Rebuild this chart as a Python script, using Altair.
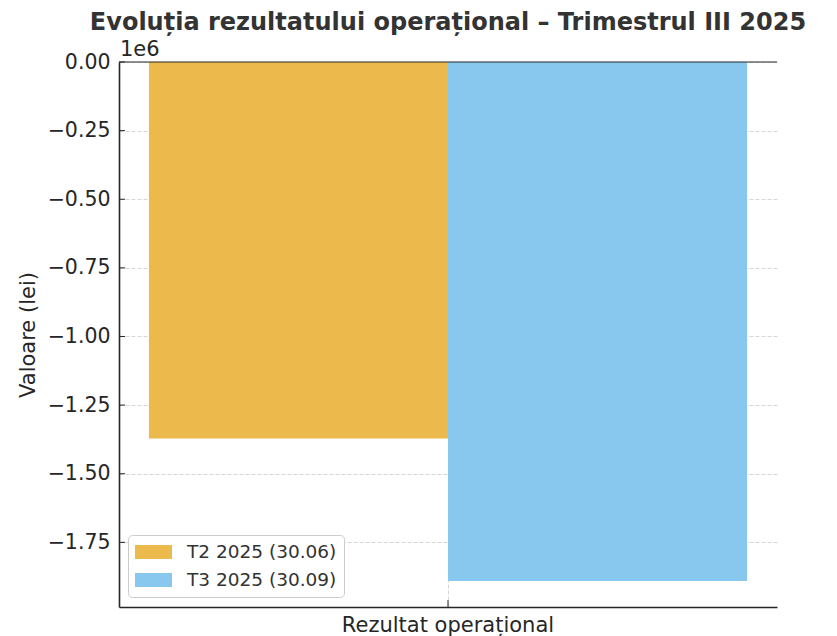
import altair as alt
import pandas as pd

categories = ["Rezultat operațional"]
series = ["T2 2025 (30.06)", "T3 2025 (30.09)"]
values = [-1372000, -1891000]
colors = ["#ECBA4C", "#88C8EE"]
y_ticks = [-1750000, -1500000, -1250000, -1000000, -750000, -500000, -250000, 0]
title_text = ["Evoluția rezultatului operațional – Trimestrul III 2025"]
y_title = "Valoare (lei)"
offset_text = ["1e6"]

df = pd.DataFrame({
    "Indicator": [categories[0]] * len(series),
    "Perioada": series,
    "Valoare": values,
})

font = "DejaVu Sans"
ink = "#262626"
ymin = min(values) * 1.05
W, H = 658, 545

yscale = alt.Scale(domain=[ymin, 0], nice=False, zero=False)
xscale = alt.Scale(domain=categories, paddingOuter=0.05, paddingInner=0)

bars = alt.Chart(df).mark_bar().encode(
    x=alt.X("Indicator:N", title=None, scale=xscale,
            axis=alt.Axis(labelAngle=0, labelFontSize=21, labelColor=ink,
                          labelFont=font, labelPadding=7, ticks=False,
                          labelLimit=0,
                          domainColor=ink, domainWidth=1.6,
                          grid=True, gridDash=[4, 2], gridColor="#cccccc",
                          gridWidth=0.8)),
    xOffset=alt.XOffset("Perioada:N", sort=series,
                        scale=alt.Scale(paddingInner=0, paddingOuter=0)),
    y=alt.Y("Valoare:Q", title=y_title, scale=yscale,
            axis=alt.Axis(values=y_ticks,
                          labelExpr="replace(format(datum.value/1000000, '.2f'), '-', '−')",
                          labelFontSize=20.5, labelColor=ink, labelFont=font,
                          labelPadding=9, ticks=False,
                          titleFontSize=21, titleFont=font, titleFontWeight="normal",
                          titleColor=ink, titlePadding=9,
                          domainColor=ink, domainWidth=1.6,
                          grid=True, gridDash=[4, 2], gridColor="#cccccc",
                          gridWidth=0.8)),
    color=alt.Color("Perioada:N", sort=series,
                    scale=alt.Scale(domain=series, range=colors),
                    legend=alt.Legend(title=None, orient="none", legendX=9, legendY=473,
                                      labelFontSize=18.5, labelFont=font,
                                      labelColor="#333333", labelOffset=32,
                                      symbolType="M-1,-0.7H2.7V0.7H-1Z",
                                      symbolSize=400, symbolStrokeWidth=0,
                                      symbolOpacity=1,
                                      rowPadding=8,
                                      padding=7, fillColor="white",
                                      strokeColor="#cccccc", cornerRadius=4)),
)

# inward ticks (matplotlib style)
ytick_df = pd.DataFrame({"v": y_ticks})
yticks = alt.Chart(ytick_df).mark_rule(color=ink, strokeWidth=1).encode(
    y=alt.Y("v:Q", scale=yscale), x=alt.value(0), x2=alt.value(6)
)
xtick_df = pd.DataFrame({"Indicator": categories})
xticks = alt.Chart(xtick_df).mark_rule(color=ink, strokeWidth=1).encode(
    x=alt.X("Indicator:N", scale=xscale), y=alt.value(H - 7), y2=alt.value(H)
)

zero_df = pd.DataFrame({"z": [0]})
zero_line = alt.Chart(zero_df).mark_rule(color=ink, strokeWidth=1.2).encode(
    y=alt.Y("z:Q", scale=yscale)
)

off_df = pd.DataFrame({"t": offset_text})
offset_label = alt.Chart(off_df).mark_text(
    align="left", baseline="alphabetic", fontSize=21, font=font, color=ink
).encode(
    x=alt.value(1), y=alt.value(-6), text="t:N"
)

title_df = pd.DataFrame({"t": title_text})
title_mark = alt.Chart(title_df).mark_text(
    align="center", baseline="alphabetic", fontSize=24, font=font,
    fontWeight="bold", color="#333333"
).encode(
    x=alt.value(W / 2), y=alt.value(-32), text="t:N"
)

chart = alt.layer(bars, yticks, xticks, zero_line, offset_label, title_mark).properties(
    width=W, height=H,
    autosize=alt.AutoSizeParams(type="none"),
    padding={"left": 111, "top": 54, "right": 52, "bottom": 29},
).configure_view(stroke=None).configure_axis(
    labelFont=font, titleFont=font
)

chart.save("out.html", embed_options={"renderer": "svg", "actions": False})
